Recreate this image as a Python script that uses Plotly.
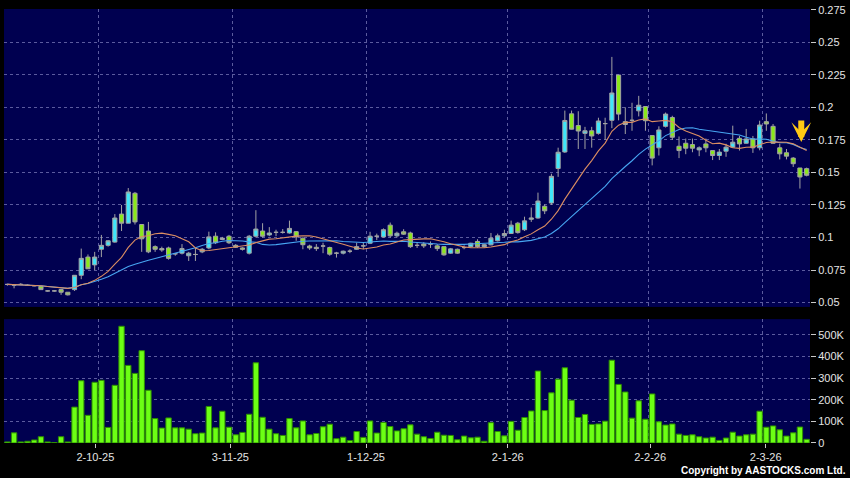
import plotly.graph_objects as go
import pandas as pd

# ---------------- data ----------------
opens = [0.064, 0.0635, 0.064, 0.0633, 0.063, 0.0625, 0.059, 0.059, 0.060, 0.058,
         0.060, 0.071, 0.085, 0.079, 0.091, 0.094, 0.0965, 0.118, 0.111, 0.134,
         0.110, 0.105, 0.093, 0.0915, 0.092, 0.0875, 0.088, 0.086, 0.087, 0.089,
         0.092, 0.101, 0.0985, 0.101, 0.094, 0.092, 0.088, 0.101, 0.105, 0.102,
         0.104, 0.104, 0.1035, 0.1045, 0.0995, 0.0935, 0.0925, 0.0935, 0.0923, 0.088,
         0.088, 0.0895, 0.091, 0.0936, 0.0956, 0.101, 0.1005, 0.1095, 0.1013, 0.1044,
         0.1035, 0.094, 0.095, 0.095, 0.0936, 0.093, 0.088, 0.091, 0.0923, 0.093,
         0.097, 0.093, 0.0944, 0.0975, 0.1013, 0.1031, 0.111, 0.106, 0.114, 0.115,
         0.124, 0.1265, 0.153, 0.1657, 0.195, 0.186, 0.180, 0.182, 0.180, 0.1875,
         0.190, 0.2248, 0.189, 0.190, 0.1973, 0.2006, 0.1783, 0.1689, 0.1854, 0.1922,
         0.1701, 0.1724, 0.1714, 0.1673, 0.1719, 0.1668, 0.163, 0.1663, 0.1694, 0.1762,
         0.1724, 0.1757, 0.1689, 0.189, 0.1854, 0.1689, 0.1651, 0.161, 0.1534, 0.1529]
highs = [0.0645, 0.064, 0.065, 0.064, 0.0635, 0.0628, 0.0595, 0.0595, 0.0605, 0.058,
         0.071, 0.0915, 0.087, 0.089, 0.102, 0.098, 0.118, 0.125, 0.138, 0.135,
         0.110, 0.112, 0.094, 0.093, 0.093, 0.088, 0.095, 0.089, 0.092, 0.092,
         0.1045, 0.104, 0.1005, 0.102, 0.095, 0.0925, 0.102, 0.121, 0.111, 0.108,
         0.106, 0.1065, 0.113, 0.105, 0.100, 0.0945, 0.095, 0.096, 0.093, 0.089,
         0.090, 0.091, 0.096, 0.096, 0.1044, 0.103, 0.107, 0.1115, 0.1045, 0.1064,
         0.1045, 0.096, 0.0965, 0.097, 0.095, 0.093, 0.092, 0.0915, 0.094, 0.096,
         0.0987, 0.095, 0.1035, 0.103, 0.106, 0.113, 0.112, 0.116, 0.123, 0.1345,
         0.1255, 0.149, 0.169, 0.1975, 0.1975, 0.197, 0.185, 0.185, 0.192, 0.192,
         0.2387, 0.2248, 0.200, 0.2035, 0.2088, 0.2006, 0.1783, 0.1854, 0.196, 0.1935,
         0.1776, 0.176, 0.176, 0.170, 0.176, 0.1668, 0.168, 0.172, 0.1859, 0.178,
         0.1834, 0.178, 0.1897, 0.1953, 0.1872, 0.172, 0.168, 0.1618, 0.1534, 0.1537]
lows = [0.063, 0.061, 0.0635, 0.063, 0.0625, 0.060, 0.0585, 0.0585, 0.056, 0.0555,
        0.059, 0.068, 0.076, 0.075, 0.085, 0.093, 0.096, 0.105, 0.111, 0.110,
        0.089, 0.088, 0.089, 0.089, 0.083, 0.086, 0.087, 0.082, 0.082, 0.088,
        0.091, 0.095, 0.098, 0.095, 0.092, 0.090, 0.087, 0.100, 0.100, 0.101,
        0.101, 0.103, 0.103, 0.0975, 0.091, 0.0905, 0.0897, 0.088, 0.086, 0.0846,
        0.087, 0.088, 0.0905, 0.091, 0.095, 0.098, 0.100, 0.100, 0.100, 0.102,
        0.092, 0.092, 0.092, 0.092, 0.0897, 0.086, 0.0875, 0.0875, 0.091, 0.092,
        0.092, 0.092, 0.094, 0.097, 0.100, 0.103, 0.103, 0.105, 0.112, 0.1145,
        0.118, 0.125, 0.1466, 0.165, 0.183, 0.168, 0.168, 0.169, 0.179, 0.175,
        0.184, 0.190, 0.1795, 0.182, 0.193, 0.182, 0.1554, 0.163, 0.1845, 0.175,
        0.161, 0.164, 0.1655, 0.1625, 0.1655, 0.1595, 0.1595, 0.162, 0.169, 0.1668,
        0.172, 0.165, 0.167, 0.182, 0.172, 0.160, 0.160, 0.1542, 0.1376, 0.147]
closes = [0.064, 0.0635, 0.064, 0.0633, 0.063, 0.060, 0.059, 0.059, 0.058, 0.056,
          0.071, 0.084, 0.076, 0.085, 0.094, 0.0975, 0.115, 0.111, 0.135, 0.112,
          0.099, 0.089, 0.091, 0.0905, 0.084, 0.0875, 0.0915, 0.088, 0.087, 0.091,
          0.1005, 0.096, 0.0995, 0.096, 0.0925, 0.091, 0.101, 0.1065, 0.101, 0.1035,
          0.104, 0.104, 0.107, 0.1005, 0.0945, 0.092, 0.0915, 0.0935, 0.0872, 0.088,
          0.0895, 0.0895, 0.093, 0.0936, 0.101, 0.101, 0.106, 0.1013, 0.1033, 0.1026,
          0.093, 0.094, 0.0936, 0.095, 0.0915, 0.0867, 0.0913, 0.088, 0.0923, 0.0956,
          0.093, 0.0945, 0.0995, 0.1013, 0.1031, 0.1095, 0.1038, 0.1128, 0.115, 0.128,
          0.1205, 0.147, 0.1655, 0.1899, 0.1832, 0.1818, 0.182, 0.178, 0.1895, 0.1875,
          0.211, 0.1948, 0.1868, 0.190, 0.2016, 0.1897, 0.161, 0.1826, 0.1948, 0.177,
          0.1668, 0.1686, 0.1686, 0.1689, 0.1689, 0.163, 0.1656, 0.1694, 0.1732, 0.1719,
          0.1757, 0.1689, 0.1864, 0.1872, 0.1724, 0.1643, 0.1625, 0.1567, 0.1465, 0.1478]
volumes = [5000, 47000, 5000, 8000, 14000, 29000, 5000, 2000, 29000, 5000,
           166000, 288000, 128000, 281000, 290000, 72000, 267000, 540000, 359000, 322000,
           427000, 244000, 113000, 69000, 116000, 70000, 70000, 64000, 43000, 46000,
           169000, 70000, 147000, 73000, 38000, 49000, 133000, 371000, 119000, 64000,
           43000, 35000, 113000, 70000, 102000, 38000, 44000, 75000, 87000, 20000,
           27000, 11000, 53000, 26000, 102000, 46000, 95000, 76000, 56000, 66000,
           84000, 41000, 29000, 21000, 50000, 36000, 35000, 15000, 32000, 24000,
           27000, 8000, 94000, 53000, 33000, 100000, 59000, 118000, 148000, 333000,
           150000, 232000, 295000, 348000, 198000, 118000, 132000, 86000, 88000, 101000,
           383000, 271000, 236000, 115000, 195000, 110000, 227000, 98000, 83000, 88000,
           41000, 35000, 38000, 29000, 23000, 27000, 12000, 23000, 50000, 32000,
           38000, 41000, 147000, 73000, 79000, 61000, 32000, 47000, 74000, 17000]

# first trading day of each month (bar index) -> month gridlines sit at its left edge
month_start_idx = [14, 34, 54, 75, 96, 113]
# where the date labels are drawn (bar index units)
date_label_pos = [13.1, 33.2, 53.4, 74.5, 95.7, 112.9]
date_tick_labels = ["2-10-25", "3-11-25", "1-12-25", "2-1-26", "2-2-26", "2-3-26"]
price_ticks = [0.05, 0.075, 0.1, 0.125, 0.15, 0.175, 0.2, 0.225, 0.25, 0.275]
price_tick_labels = ["0.05", "0.075", "0.1", "0.125", "0.15", "0.175", "0.2", "0.225", "0.25", "0.275"]
vol_ticks = [0, 100000, 200000, 300000, 400000, 500000]
vol_tick_labels = ["0", "100K", "200K", "300K", "400K", "500K"]

# ---------------- derived ----------------
n = len(closes)
idx = list(range(n))
df = pd.DataFrame({"o": opens, "h": highs, "l": lows, "c": closes, "v": volumes}, index=idx)
ma10 = df["c"].rolling(10, min_periods=1).mean()
ma20 = df["c"].rolling(20, min_periods=1).mean()
month_grid = [m - 0.5 for m in month_start_idx]

UP = "#3fe6fa"
DOWN = "#8ae81a"
DOJI = "#a8a8a8"
WICK = "#a3a3a3"
GRID = "#5b5b9e"
TXT = "#e4e4e4"
FONT = "Liberation Sans, Arial, sans-serif"

fig = go.Figure()

groups = {
    "up": df[df.c > df.o],
    "down": df[df.c < df.o],
    "doji": df[df.c == df.o],
}
fills = {"up": UP, "down": DOWN, "doji": DOJI}
for key, g in groups.items():
    fig.add_trace(go.Candlestick(
        x=list(g.index), open=g.o, high=g.h, low=g.l, close=g.c,
        increasing=dict(fillcolor=fills[key], line=dict(color=WICK, width=1)),
        decreasing=dict(fillcolor=fills[key], line=dict(color=WICK, width=1)),
        whiskerwidth=0, xaxis="x", yaxis="y", showlegend=False, hoverinfo="skip",
    ))

fig.add_trace(go.Scatter(x=idx, y=ma20, mode="lines", line=dict(color="#47a6f2", width=1.1),
                         xaxis="x", yaxis="y", showlegend=False, hoverinfo="skip"))
fig.add_trace(go.Scatter(x=idx, y=ma10, mode="lines", line=dict(color="#dc8e62", width=1.1),
                         xaxis="x", yaxis="y", showlegend=False, hoverinfo="skip"))

fig.add_trace(go.Bar(x=idx, y=volumes, marker=dict(color="#6cff14", line=dict(color="#2e8f00", width=1)),
                     xaxis="x2", yaxis="y2", showlegend=False, hoverinfo="skip"))

xr = [-0.5, n - 0.5]
grid_minor = dict(tickvals=month_grid, showgrid=True, gridcolor=GRID, griddash="3px,3px",
                  gridwidth=1, ticks="")

fig.update_layout(
    width=850, height=478,
    margin=dict(l=4, r=38, t=6, b=35),
    paper_bgcolor="black", plot_bgcolor="#000050",
    font=dict(family=FONT, size=11, color=TXT),
    boxgap=0.12, bargap=0.2,
    showlegend=False,
    xaxis=dict(domain=[0, 1], anchor="y", range=xr, tickvals=date_label_pos, showticklabels=False,
               ticks="", showgrid=False, minor=grid_minor, zeroline=False, showline=False,
               fixedrange=True, rangeslider=dict(visible=False)),
    xaxis2=dict(domain=[0, 1], anchor="y2", range=xr, tickvals=date_label_pos, ticktext=date_tick_labels,
                ticks="outside", ticklen=4, tickcolor="#c8c8c8", tickfont=dict(size=11, color=TXT),
                showgrid=False, minor=grid_minor, zeroline=False, showline=False, fixedrange=True),
    yaxis=dict(domain=[0.3135, 1], anchor="x", side="right", range=[0.0467, 0.2755],
               tickvals=price_ticks, ticktext=price_tick_labels, ticks="outside", ticklen=5,
               tickcolor="#c8c8c8", showgrid=True, gridcolor=GRID, griddash="3px,3px",
               zeroline=False, showline=False, fixedrange=True),
    yaxis2=dict(domain=[0, 0.2854], anchor="x2", side="right", range=[0, 573000],
                tickvals=vol_ticks, ticktext=vol_tick_labels, ticks="outside", ticklen=5,
                tickcolor="#c8c8c8", showgrid=True, gridcolor=GRID, griddash="3px,3px",
                zeroline=False, showline=False, fixedrange=True),
    annotations=[
        dict(xref="paper", yref="paper", x=1.047, y=-0.064, xanchor="right", yanchor="middle",
             text="<b>Copyright by AASTOCKS.com Ltd.</b>", showarrow=False,
             font=dict(size=10, color="white", family=FONT)),
        dict(xref="x", yref="y", x=n - 1.8, y=0.1733, ax=0, ay=-23, text="", showarrow=True,
             arrowhead=3, arrowsize=0.55, arrowwidth=6, arrowcolor="#ffc814"),
    ],
)

fig.write_html("out.html", config={"displayModeBar": False, "staticPlot": True}, post_script=(
    "document.body.style.margin='0';document.body.style.padding='0';"
    "document.body.style.background='black';"))
